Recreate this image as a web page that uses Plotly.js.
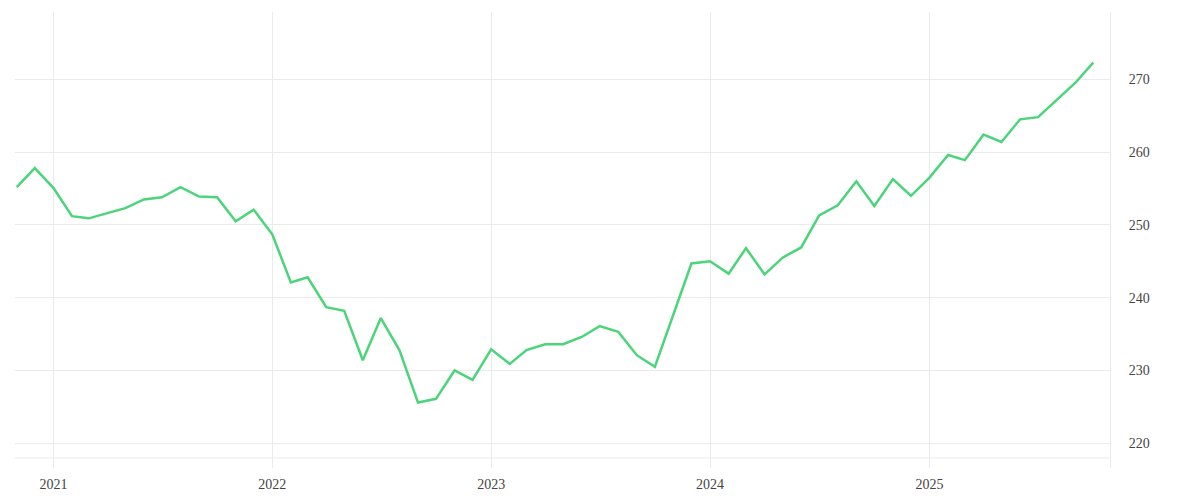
<!DOCTYPE html>
<html>
<head>
<meta charset="utf-8">
<script src="https://cdn.plot.ly/plotly-3.0.1.min.js"></script>
<style>html,body{margin:0;padding:0;background:#fff;}#chart{width:1200px;height:500px;}</style>
</head>
<body>
<div id="chart"></div>
<script>
const months = [
  "2020-11-01","2020-12-01",
  "2021-01-01","2021-02-01","2021-03-01","2021-04-01","2021-05-01","2021-06-01","2021-07-01","2021-08-01","2021-09-01","2021-10-01","2021-11-01","2021-12-01",
  "2022-01-01","2022-02-01","2022-03-01","2022-04-01","2022-05-01","2022-06-01","2022-07-01","2022-08-01","2022-09-01","2022-10-01","2022-11-01","2022-12-01",
  "2023-01-01","2023-02-01","2023-03-01","2023-04-01","2023-05-01","2023-06-01","2023-07-01","2023-08-01","2023-09-01","2023-10-01","2023-11-01","2023-12-01",
  "2024-01-01","2024-02-01","2024-03-01","2024-04-01","2024-05-01","2024-06-01","2024-07-01","2024-08-01","2024-09-01","2024-10-01","2024-11-01","2024-12-01",
  "2025-01-01","2025-02-01","2025-03-01","2025-04-01","2025-05-01","2025-06-01","2025-07-01","2025-08-01","2025-09-01","2025-10-01"
];
const values = [
  255.2, 257.8,
  255.1, 251.2, 250.9, 251.6, 252.3, 253.5, 253.8, 255.2, 253.9, 253.8, 250.5, 252.1,
  248.7, 242.1, 242.8, 238.7, 238.2, 231.4, 237.2, 232.8, 225.6, 226.1, 230.0, 228.7,
  232.9, 230.9, 232.8, 233.6, 233.6, 234.6, 236.1, 235.3, 232.1, 230.5, 237.7, 244.7,
  245.0, 243.3, 246.8, 243.2, 245.5, 246.9, 251.3, 252.7, 256.0, 252.6, 256.3, 254.0,
  256.5, 259.6, 258.9, 262.4, 261.4, 264.5, 264.8, 267.1, 269.5, 272.3
];
const yTicks = [220, 230, 240, 250, 260, 270];
const xTickVals = ["2021-01-01","2022-01-01","2023-01-01","2024-01-01","2025-01-01"];
const xTickText = ["2021","2022","2023","2024","2025"];

const gridCol = "#ebebeb";
const fontSpec = {family: "Liberation Serif, serif", size: 14, color: "#444"};

Plotly.newPlot("chart", [{
  x: months, y: values, type: "scatter", mode: "lines",
  line: {color: "#4cd47a", width: 2.5}, hoverinfo: "x+y"
}], {
  width: 1200, height: 500,
  margin: {l: 15, r: 90, t: 12, b: 32},
  paper_bgcolor: "#fff", plot_bgcolor: "#fff",
  showlegend: false,
  font: fontSpec,
  xaxis: {
    type: "date", range: ["2020-10-29", "2025-10-29"],
    tickvals: xTickVals, ticktext: xTickText,
    showgrid: true, gridcolor: gridCol, gridwidth: 1,
    zeroline: false, showline: false, ticks: "",
    ticklabelstandoff: 6, tickfont: fontSpec
  },
  yaxis: {
    side: "right", range: [216.6, 279.25],
    tickvals: yTicks,
    showgrid: true, gridcolor: gridCol, gridwidth: 1,
    zeroline: false, showline: true, linecolor: gridCol, linewidth: 1,
    ticks: "", ticklabelstandoff: 15, tickfont: fontSpec
  },
  shapes: [{
    type: "line", xref: "paper", yref: "paper", x0: 0, x1: 1, y0: 0.022, y1: 0.022,
    line: {color: gridCol, width: 1}, layer: "below"
  }]
}, {displayModeBar: false, staticPlot: true});
</script>
</body>
</html>
